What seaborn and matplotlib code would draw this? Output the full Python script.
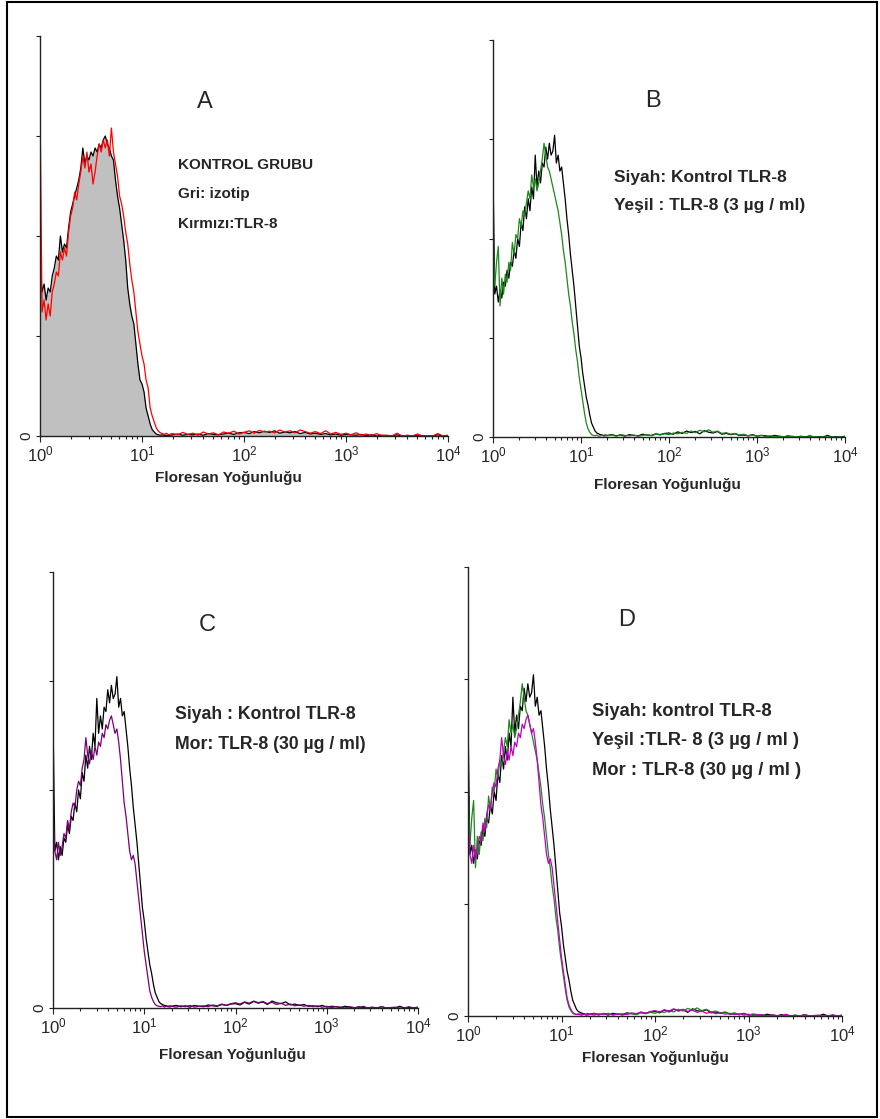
import numpy as np
import matplotlib.pyplot as plt
import seaborn as sns
from matplotlib.patches import Rectangle

# kanal konumlari (log10 floresan): tepe bolgesinde ince, kuyrukta kaba adim
kanal_tepe = np.arange(65) * 0.02
kanal_kuyruk = 1.30 + np.arange(55) * 0.05
kanal_log = np.round(np.concatenate([kanal_tepe, kanal_kuyruk]), 2)

# A paneli: gri izotip (dolu) ve kirmizi TLR-8
izotip_tepe = [42, 36, 38, 34, 37, 36, 40, 42, 45, 44, 50, 46, 48, 47, 52, 56,
               58, 60, 62, 64, 67, 72, 68, 70, 69, 71, 70, 72, 71, 73, 72, 74,
               75, 73, 72, 70, 69, 64, 60, 57, 53, 49, 44, 37, 33, 30, 28, 23,
               18, 14, 13, 11, 7, 5, 3, 1.6, 1.0, 0.5, 0.3, 0.2, 0.3, 0.1, 0.2,
               0.1, 0.2]
izotip_kuyruk = [0.3, 0.5, 0.2, 0.4, 0.3, 0.5, 0.2, 0.6, 0.4, 0.3, 0.5, 0.7, 0.4, 0.8,
                 0.9, 0.6, 1.1, 0.8, 1.2, 0.9, 1.3, 0.7, 1.0, 0.8, 1.1, 0.6, 0.9, 0.5,
                 0.7, 0.4, 0.6, 0.3, 0.5, 0.2, 0.4, 0.3, 0.2, 0.4, 0.1, 0.3, 0.0, 0.2,
                 0.1, 0.0, 0.3, 0.0, 0.1, 0.0, 0.2, 0.0, 0.1, 0.0, 0.3, 0.0, 0.1]

kirmizi_tepe = [84, 31, 34, 29, 33, 30, 36, 38, 41, 40, 46, 44, 47, 45, 51, 55,
                57, 61, 59, 63, 66, 70, 67, 71, 66, 68, 63, 66, 70, 73, 71, 74,
                72, 74, 70, 77, 71, 68, 65, 60, 58, 55, 51, 48, 43, 39, 36, 31,
                26, 23, 20, 18, 14, 12, 7, 5, 3.5, 2, 1.2, 0.8, 0.6, 0.4, 0.7,
                0.3, 0.5]
kirmizi_kuyruk = [0.6, 0.3, 0.9, 0.4, 0.7, 0.2, 1.0, 0.5, 0.8, 0.3, 1.0, 0.7, 1.2, 0.5,
                  0.9, 1.3, 0.7, 1.4, 1.0, 1.2, 0.8, 1.5, 1.0, 1.3, 0.8, 1.5, 1.1, 0.7,
                  1.1, 0.6, 1.3, 0.5, 0.9, 0.4, 0.7, 0.3, 0.8, 0.2, 0.5, 0.1, 0.6, 0.1,
                  0.2, 0.0, 0.7, 0.0, 0.2, 0.0, 0.5, 0.0, 0.1, 0.0, 0.6, 0.0, 0.2]

# B, C, D panelleri: siyah kontrol TLR-8
siyah_tepe = [67, 36, 38, 34, 37, 35, 39, 38, 42, 40, 44, 43, 47, 45, 50, 48,
              54, 52, 58, 55, 60, 57, 63, 60, 71, 63, 67, 64, 69, 68, 73, 70,
              74, 71, 72, 76, 69, 71, 67, 68, 64, 60, 55, 51, 46, 42, 38, 33,
              28, 23, 20, 16, 13, 10, 8, 5.5, 3.5, 2.5, 1.5, 1.0, 0.8, 0.6, 0.5,
              0.4, 0.5]
siyah_kuyruk = [0.4, 0.6, 0.3, 0.5, 0.2, 0.6, 0.4, 0.3, 0.7, 0.5, 0.4, 0.8, 0.6, 0.9,
                1.0, 0.7, 1.3, 0.9, 1.5, 1.1, 1.4, 0.8, 1.6, 1.2, 1.0, 1.4, 0.7, 0.9,
                0.6, 0.8, 0.4, 0.5, 0.3, 0.6, 0.2, 0.4, 0.3, 0.1, 0.4, 0.2, 0.0, 0.3,
                0.1, 0.0, 0.2, 0.0, 0.3, 0.0, 0.1, 0.0, 0.4, 0.0, 0.1, 0.0, 0.2]

# yesil: TLR-8 (3 ug/ml)
yesil_tepe = [52, 38, 44, 48, 33, 40, 36, 41, 39, 44, 42, 49, 46, 51, 50, 55,
              53, 57, 56, 59, 62, 60, 66, 63, 65, 62, 64, 67, 70, 74, 71, 68,
              67, 65, 63, 61, 59, 57, 54, 51, 47, 44, 40, 36, 33, 29, 26, 22,
              19, 15, 12, 9, 6, 3.5, 2, 1.2, 0.6, 0.4, 0.3, 0.5, 0.2, 0.3, 0.4,
              0.2, 0.3]
yesil_kuyruk = [0.3, 0.5, 0.2, 0.6, 0.4, 0.3, 0.5, 0.2, 0.4, 0.6, 0.3, 0.7, 0.5, 0.8,
                0.6, 1.0, 0.8, 1.2, 0.9, 1.5, 1.1, 1.7, 1.3, 1.8, 1.2, 1.5, 0.9, 1.1,
                0.7, 0.9, 0.5, 0.7, 0.3, 0.5, 0.2, 0.4, 0.1, 0.3, 0.0, 0.2, 0.1, 0.0,
                0.2, 0.0, 0.1, 0.0, 0.0, 0.1, 0.0, 0.0, 0.0, 0.0, 0.0, 0.0, 0.0]

# mor: TLR-8 (30 ug/ml)
mor_tepe = [45, 36, 34, 38, 35, 37, 40, 39, 43, 41, 45, 47, 46, 50, 52, 51,
            55, 57, 62, 58, 56, 59, 57, 60, 58, 61, 60, 63, 62, 65, 64, 66,
            67, 65, 63, 64, 61, 57, 52, 47, 44, 40, 36, 34, 35, 33, 29, 25,
            21, 17, 13, 10, 7, 4, 2.5, 1.5, 0.8, 0.5, 0.4, 0.3, 0.5, 0.2, 0.4,
            0.3, 0.2]
mor_kuyruk = [0.4, 0.2, 0.5, 0.3, 0.6, 0.2, 0.4, 0.5, 0.3, 0.7, 0.5, 0.9, 0.6, 1.0,
              1.2, 0.9, 1.4, 1.1, 1.6, 1.2, 1.5, 1.0, 1.3, 0.8, 1.1, 0.6, 0.9, 0.5,
              0.7, 0.4, 0.6, 0.3, 0.5, 0.2, 0.4, 0.1, 0.3, 0.2, 0.0, 0.3, 0.1, 0.0,
              0.4, 0.0, 0.1, 0.0, 0.3, 0.0, 0.1, 0.2, 0.0, 0.0, 0.3, 0.0, 0.1]

ondalik_tikler = [1, 10, 100, 1000, 10000]
ondalik_etiketler = [r'$\mathregular{10^{0}}$', r'$\mathregular{10^{1}}$',
                     r'$\mathregular{10^{2}}$', r'$\mathregular{10^{3}}$',
                     r'$\mathregular{10^{4}}$']
eksen_baslik = 'Floresan Yoğunluğu'

W, H = 880, 1119
YAZI = ['Liberation Sans', 'DejaVu Sans']


def fp(x, y):
    return x / W, 1 - y / H


def eksen_ayarla(ax):
    ax.set_xscale('log')
    ax.set_xlim(1, 1e4)
    ax.set_ylim(0, 100)
    ax.set_xticks(ondalik_tikler)
    ax.set_xticklabels(ondalik_etiketler, fontsize=12)
    ax.xaxis.set_minor_formatter(plt.NullFormatter())
    ax.set_yticks([0, 25, 50, 75, 100])
    ax.set_yticklabels(['0', '', '', '', ''], rotation=90, va='center', fontsize=11)
    ax.tick_params(axis='x', which='major', length=4, width=0.8, pad=2, color='#222222')
    ax.tick_params(axis='x', which='minor', length=2.5, width=0.8, color='#222222')
    ax.tick_params(axis='y', length=3, width=0.8, pad=2, color='#222222')
    for s in ['top', 'right']:
        ax.spines[s].set_visible(False)
    for s in ['left', 'bottom']:
        ax.spines[s].set_linewidth(1.0)
        ax.spines[s].set_color('#222222')
    ax.set_xlabel('')
    ax.set_ylabel('')
    ax.patch.set_alpha(0)


def egri(ax, tepe, kuyruk, renk, lw=0.9):
    y = np.array(tepe + kuyruk, dtype=float)
    x = 10 ** kanal_log
    sns.lineplot(x=x, y=y, ax=ax, color=renk, lw=lw, estimator=None, sort=False)


def main():
    sns.set_style('ticks')
    plt.rcParams['font.family'] = YAZI
    plt.rcParams['mathtext.default'] = 'regular'

    for t in [izotip_tepe, kirmizi_tepe, siyah_tepe, yesil_tepe, mor_tepe]:
        assert len(t) == 65
    for k in [izotip_kuyruk, kirmizi_kuyruk, siyah_kuyruk, yesil_kuyruk, mor_kuyruk]:
        assert len(k) == 55

    fig = plt.figure(figsize=(W / 100, H / 100), dpi=100)

    # panel kutulari (piksel): sol, ust, sag, alt
    kutular = {'A': (40, 36, 448, 436), 'B': (493, 40, 845, 437),
               'C': (53, 572, 418, 1008), 'D': (468, 567, 842, 1016)}
    eksenler = {}
    for harf, (x0, y0, x1, y1) in kutular.items():
        ax = fig.add_axes([x0 / W, 1 - y1 / H, (x1 - x0) / W, (y1 - y0) / H])
        eksen_ayarla(ax)
        eksenler[harf] = ax

    # A
    ax = eksenler['A']
    ax.fill_between(10 ** kanal_log, np.array(izotip_tepe + izotip_kuyruk),
                    color='#c0c0c0', lw=0)
    egri(ax, izotip_tepe, izotip_kuyruk, 'black')
    egri(ax, kirmizi_tepe, kirmizi_kuyruk, '#ff0000')
    # B
    egri(eksenler['B'], siyah_tepe, siyah_kuyruk, 'black')
    egri(eksenler['B'], yesil_tepe, yesil_kuyruk, '#1a8a1a')
    # C
    egri(eksenler['C'], siyah_tepe, siyah_kuyruk, 'black')
    egri(eksenler['C'], mor_tepe, mor_kuyruk, '#7a007a')
    # D
    egri(eksenler['D'], siyah_tepe, siyah_kuyruk, 'black')
    egri(eksenler['D'], yesil_tepe, yesil_kuyruk, '#1a8a1a')
    egri(eksenler['D'], mor_tepe, mor_kuyruk, '#c000c0')

    # panel harfleri
    for harf, (x, y) in {'A': (205, 102), 'B': (653, 101),
                         'C': (207, 625), 'D': (627, 620)}.items():
        fig.text(*fp(x, y), harf, ha='center', va='center', fontsize=17,
                 family=YAZI)

    # aciklama yazilari: sol x, satir tabanlari, boyut, satirlar
    aciklamalar = [
        (178, [169, 198, 228], 11,
         ['KONTROL GRUBU', 'Gri: izotip', 'Kırmızı:TLR-8']),
        (614, [182, 210], 12.5,
         ['Siyah: Kontrol TLR-8', 'Yeşil : TLR-8 (3 µg / ml)']),
        (175, [719, 749], 12.7,
         ['Siyah : Kontrol TLR-8', 'Mor: TLR-8 (30 µg / ml)']),
        (592, [716, 745, 775], 13.2,
         ['Siyah: kontrol TLR-8', 'Yeşil :TLR- 8 (3 µg / ml )',
          'Mor : TLR-8 (30 µg / ml )']),
    ]
    for x, ys, boyut, satirlar in aciklamalar:
        for y, s in zip(ys, satirlar):
            fig.text(*fp(x, y), s, ha='left', va='baseline', fontsize=boyut,
                     fontweight='bold', family=YAZI)

    # eksen basliklari
    for x, y in [(228, 478), (667, 485), (232, 1055), (655, 1058)]:
        fig.text(*fp(x, y), eksen_baslik, ha='center', va='center', fontsize=11,
                 fontweight='bold', family=YAZI)

    # dis cerceve
    fig.add_artist(Rectangle((7 / W, 1 - 1117 / H), 870 / W, 1115 / H,
                             transform=fig.transFigure, fill=False,
                             ec='black', lw=1.5))

    fig.savefig('out.png', dpi=100)
    plt.close(fig)


if __name__ == '__main__':
    main()
